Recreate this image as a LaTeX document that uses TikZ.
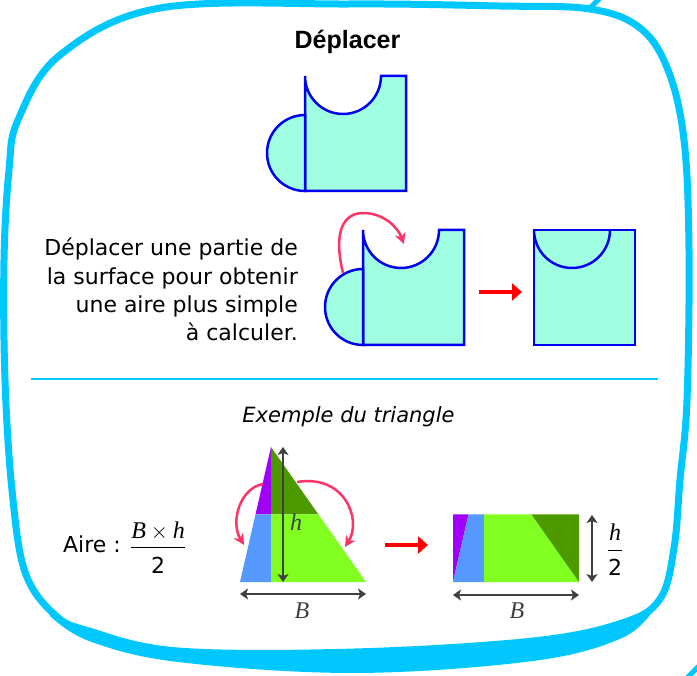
\documentclass[tikz,border=0pt]{standalone}
\usepackage{fix-cm}
\usepackage{amsmath}
\usepackage{fontspec}
\setmainfont{DejaVu Sans}
\newfontfamily\titrefont{Liberation Sans}
\newfontfamily\varfont{Liberation Serif}
\newcommand\lettre[1]{\text{\fontsize{24}{26}\selectfont\varfont\itshape #1}}
\usetikzlibrary{arrows.meta,calc}

\definecolor{cadre}{RGB}{0,200,255}
\definecolor{trait}{RGB}{0,0,240}
\definecolor{surface}{RGB}{160,255,224}
\definecolor{rose}{RGB}{255,51,102}
\definecolor{gris}{RGB}{64,64,64}
\definecolor{pviolet}{RGB}{160,0,250}
\definecolor{pbleu}{RGB}{85,153,255}
\definecolor{pvertf}{RGB}{76,154,0}
\definecolor{pvertc}{RGB}{128,255,32}

\begin{document}
\begin{tikzpicture}[
    x=1pt, y=-1pt,
    cadrebord/.style={draw=cadre, line join=round, line cap=round},
    piece/.style={draw=trait, fill=surface, line width=2.5pt},
    bascule/.style={-{Stealth[length=11pt,width=11pt]}, draw=rose, line width=2.5pt},
    fleche/.style={-{Triangle[length=10pt,width=17pt]}, draw=red, line width=4.5pt},
    cote/.style={{Stealth[length=8pt,width=11pt,inset=2pt]}-{Stealth[length=8pt,width=11pt,inset=2pt]},
        draw=gris, line width=1.5pt},
    texte/.style={font=\fontsize{22}{28.3}\selectfont, inner sep=0pt},
    lettrevar/.style={font=\fontsize{24}{26}\selectfont\varfont\itshape, text=gris, inner sep=0pt},
    titre/.style={font=\titrefont\bfseries\fontsize{25}{30}\selectfont, inner sep=0pt}
]
\useasboundingbox (0,0) rectangle (697,676);

\draw[cadrebord, line width=7pt] plot[smooth cycle, tension=0.6] coordinates {
    (18,120) (60,55) (160,8) (350,4) (500,6) (590,9) (640,28) (668,70) (684,140)
    (689,250) (687,400) (680,480) (674,548) (660,599) (622,623) (533,641) (355,652)
    (178,651) (89,631) (55,615) (25,572) (12,490) (5,380) (4,260) (9,170)};
\fill[cadre] plot[smooth, tension=0.6] coordinates {
    (50,616) (89,641) (178,662) (355,673) (533,661) (622,638) (655,608)}
    -- plot[smooth, tension=0.6] coordinates {
    (655,603) (622,623) (533,641) (355,652) (178,651) (89,631) (50,612)} -- cycle;
\draw[cadrebord, line width=5pt] (589,9) -- (601,-3);
\draw[cadrebord, line width=5pt] (686,679) -- (699,666);

\node[titre, anchor=base] (titre) at (347.5,49) {Déplacer};

\foreach \px/\py in {305/76,363/230}{
    \filldraw[piece] (\px,\py) arc[start angle=180,end angle=0,radius=38]
        -- ++(25,0) -- ++(0,115) -- ++(-101,0) -- cycle;
    \filldraw[piece] (\px,\py+115) arc[start angle=90,end angle=270,radius=38] -- cycle;
}
\filldraw[piece] (534,230) rectangle (635,345);
\draw[piece, fill=none] (534,230) arc[start angle=180,end angle=0,radius=38];

\node[texte, anchor=north east, align=right] (consigne) at (298,238)
    {Déplacer une partie de\\la surface pour obtenir\\une aire plus simple\\à calculer.};

\coordinate (dep1) at (343,273);
\coordinate (arr1) at (404,244);
\draw[bascule] (dep1) .. controls (333,232) and (343,212) .. (365,213)
    .. controls (385,214) and (398,228) .. (arr1);
\coordinate (f1a) at (479,292);
\coordinate (f1b) at (522,292);
\draw[fleche] (f1a) -- (f1b);

\draw[cadrebord, line width=2.5pt, line cap=butt] (31,379) coordinate (sepG) -- (658,379) coordinate (sepD);

\node[texte, anchor=base, font=\fontsize{21}{25}\selectfont\itshape] (exemple) at (348.5,423) {Exemple du triangle};

\node[texte, anchor=base west] (aire) at (63,553)
    {Aire : $\dfrac{\lettre{B}\times\lettre{h}}{\text{2}\rule{0pt}{23pt}}$};

\coordinate (tA) at (271,447);
\coordinate (tL) at (240,582);
\coordinate (tR) at (366,582);
\coordinate (tML) at (255.5,514.5);
\coordinate (tM) at (271,514.5);
\coordinate (tMR) at (318.5,514.5);
\coordinate (tB) at (271,582);
\fill[pviolet] (tA) -- (tML) -- (tM) -- cycle;
\fill[pbleu] (tML) -- (tM) -- (tB) -- (tL) -- cycle;
\fill[pvertf] (tA) -- (tMR) -- (tM) -- cycle;
\fill[pvertc] (tM) -- (tMR) -- (tR) -- (tB) -- cycle;

\draw[cote] (283,447) coordinate (hH) -- (283,582) coordinate (hB);
\node[lettrevar] (hlbl) at (296,522) {h};
\draw[cote] (240,594) coordinate (bG) -- (366,594) coordinate (bD);
\node[lettrevar] (blbl) at (302,611) {B};

\draw[bascule] (263,484) .. controls (240,488) and (230,522) .. (244,545);
\draw[bascule] (297,482) .. controls (345,474) and (362,520) .. (345,547);

\coordinate (f2a) at (385,545);
\coordinate (f2b) at (428,545);
\draw[fleche] (f2a) -- (f2b);

\coordinate (rNO) at (453,514.5);
\coordinate (rSE) at (579,582);
\fill[pviolet] (453,514.5) -- (468.5,514.5) -- (453,582) -- cycle;
\fill[pbleu] (468.5,514.5) -- (484,514.5) -- (484,582) -- (453,582) -- cycle;
\fill[pvertc] (484,514.5) -- (531.5,514.5) -- (579,582) -- (484,582) -- cycle;
\fill[pvertf] (531.5,514.5) -- (579,514.5) -- (579,582) -- cycle;

\draw[cote] (592,515) coordinate (dH) -- (592,582) coordinate (dB);
\node[texte] (hdemi) at (615,550) {$\dfrac{\lettre{h}}{\text{2}\rule{0pt}{23pt}}$};
\draw[cote] (453,595) coordinate (rG) -- (579,595) coordinate (rD);
\node[lettrevar] (blbl2) at (517,611) {B};

\end{tikzpicture}
\end{document}
